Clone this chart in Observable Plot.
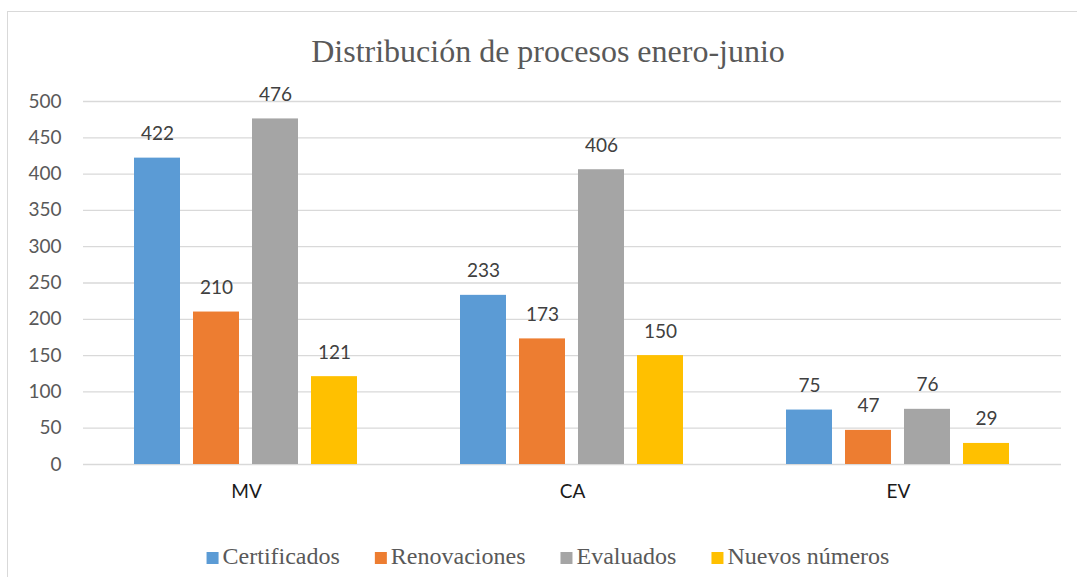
<!DOCTYPE html>
<html>
<head>
<meta charset="utf-8">
<script src="https://cdn.jsdelivr.net/npm/d3@7"></script>
<script src="https://cdn.jsdelivr.net/npm/@observablehq/plot@0.6"></script>
<style>
  html, body { margin: 0; padding: 0; background: #fff; }
  #wrap { position: relative; width: 1077px; height: 577px; overflow: hidden; }
  #frame { position: absolute; left: 7px; top: 11px; width: 1090px; height: 600px; border: 1px solid #d9d9d9; box-sizing: border-box; }
  #title { position: absolute; left: 0; width: 1096px; top: 33px; text-align: center; font-family: "Liberation Serif", "Times New Roman", serif; font-size: 32px; color: #595959; white-space: nowrap; }
  #chart { position: absolute; left: 0; top: 0; }
  #legend { position: absolute; left: 0; top: 536px; }
</style>
</head>
<body>
<div id="wrap">
  <div id="frame"></div>
  <div id="chart"></div>
  <div id="title">Distribución de procesos enero-junio</div>
  <div id="legend"></div>
</div>
<script>
const categories = ["MV", "CA", "EV"];
const series = ["Certificados", "Renovaciones", "Evaluados", "Nuevos números"];
const colors = ["#5B9BD5", "#ED7D31", "#A5A5A5", "#FFC000"];
const certificados = [422, 233, 75];
const renovaciones = [210, 173, 47];
const evaluados = [476, 406, 76];
const nuevos = [121, 150, 29];
const yTicks = [0, 50, 100, 150, 200, 250, 300, 350, 400, 450, 500];

const valuesBySeries = [certificados, renovaciones, evaluados, nuevos];
const data = [];
categories.forEach((c, i) => {
  series.forEach((s, j) => {
    data.push({cat: c, series: s, value: valuesBySeries[j][i]});
  });
});

const chart = Plot.plot({
  width: 1077,
  height: 530,
  marginLeft: 83,
  marginRight: 16,
  marginTop: 101,
  marginBottom: 66,
  style: {fontFamily: "Lato, sans-serif", fontSize: "19px", background: "transparent"},
  fx: {domain: categories, padding: 0, label: null},
  x: {domain: series, paddingInner: 0.22, paddingOuter: 0.87, axis: null},
  y: {domain: [0, 500], ticks: yTicks, label: null},
  color: {domain: series, range: colors},
  marks: [
    Plot.gridY(yTicks, {stroke: "#d9d9d9", strokeOpacity: 1, strokeWidth: 1.3}),
    Plot.axisY(yTicks, {tickSize: 0, tickPadding: 22, label: null, color: "#595959", fontSize: 19}),
    Plot.axisFx({anchor: "bottom", tickSize: 0, tickPadding: 20, label: null, color: "#1a1a1a", fontSize: 19}),
    Plot.barY(data, {fx: "cat", x: "series", y: "value", fill: "series"}),
    Plot.text(data, {fx: "cat", x: "series", y: "value", text: d => String(d.value), lineAnchor: "bottom", dy: -18, fill: "#404040", fontSize: 19})
  ]
});
document.getElementById("chart").appendChild(chart);

// Legend drawn as SVG with serif text
const svg = d3.select("#legend").append("svg").attr("width", 1077).attr("height", 41);
const g = svg.append("g");
const items = [];
series.forEach((s, j) => {
  const item = g.append("g");
  item.append("rect").attr("x", 0).attr("y", 16).attr("width", 12).attr("height", 12).attr("fill", colors[j]);
  const t = item.append("text").attr("x", 16).attr("y", 28)
    .style("font-family", "'Liberation Serif', 'Times New Roman', serif")
    .attr("font-size", 24).attr("fill", "#595959").text(s);
  const w = 16 + t.node().getComputedTextLength();
  items.push({item, w});
});
const gap = 35;
const total = items.reduce((a, b) => a + b.w, 0) + gap * (items.length - 1);
let x0 = 548 - total / 2;
items.forEach(({item, w}) => { item.attr("transform", `translate(${x0},0)`); x0 += w + gap; });
</script>
</body>
</html>
